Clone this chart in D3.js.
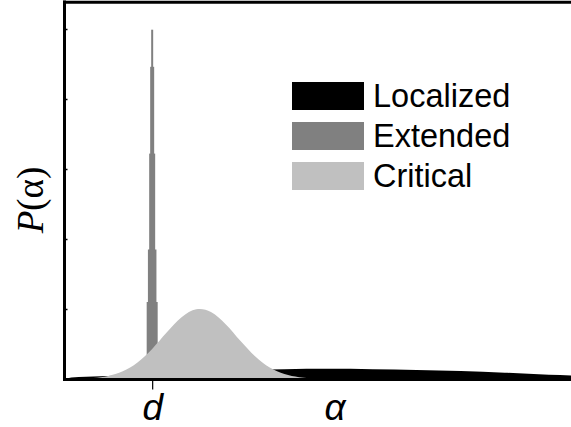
<!DOCTYPE html>
<html>
<head>
<meta charset="utf-8">
<script src="https://cdn.jsdelivr.net/npm/d3@7"></script>
<style>
  html, body { margin: 0; padding: 0; background: #fff; }
  svg { display: block; }
</style>
</head>
<body>
<svg id="chart" width="571" height="427"></svg>
<script>
// ---- data ----
const seriesNames = ["Localized", "Extended", "Critical"];
const seriesColors = ["#000000", "#808080", "#c0c0c0"];

// Localized: broad, low distribution of alpha
const localizedAlpha = [1.40, 1.45, 1.50, 1.60, 1.80, 2.00, 2.30, 2.60, 2.90, 3.20, 3.50, 3.80, 4.10, 4.40, 4.70, 4.85];
const localizedP     = [0.00, 0.02, 0.03, 0.035, 0.05, 0.08, 0.11, 0.13, 0.14, 0.145, 0.14, 0.13, 0.115, 0.09, 0.06, 0.05];

// Extended: very narrow spike at alpha = d (nested histograms)
const dValue = 2.0;
const extendedHalfWidth = [0.0374, 0.029, 0.0204, 0.0136, 0.0068];
const extendedP         = [1.10, 1.85, 3.22, 4.46, 4.99];

// Critical: bell-shaped distribution around alpha ~ 2.33
const criticalAlpha = [1.50, 1.60, 1.70, 1.80, 1.90, 2.00, 2.10, 2.20, 2.30, 2.325, 2.40, 2.50, 2.60, 2.70, 2.80, 2.90, 3.00, 3.10, 3.20];
const criticalP     = [0.003, 0.015, 0.044, 0.110, 0.236, 0.430, 0.667, 0.882, 0.995, 1.000, 0.956, 0.783, 0.546, 0.325, 0.164, 0.071, 0.026, 0.008, 0.002];

const yTicks = [1, 2, 3, 4, 5];
const xTicks = [dValue];
const xTickLabels = ["d"];

// ---- layout ----
const svg = d3.select("#chart");
const x = d3.scaleLinear().domain([1.4, 4.85]).range([64, 571]);
const y = d3.scaleLinear().domain([0, 5.4]).range([379, 1]);

const area = d3.area()
  .x(d => x(d[0]))
  .y0(y(0))
  .y1(d => y(d[1]))
  .curve(d3.curveMonotoneX);

// Localized
svg.append("path")
  .datum(localizedAlpha.map((a, i) => [a, localizedP[i]]))
  .attr("d", area)
  .attr("fill", seriesColors[0]);

// Extended spike
svg.append("g").selectAll("rect")
  .data(extendedHalfWidth.map((w, i) => ({ w, p: extendedP[i] })))
  .join("rect")
  .attr("x", d => x(dValue - d.w))
  .attr("width", d => x(dValue + d.w) - x(dValue - d.w))
  .attr("y", d => y(d.p))
  .attr("height", d => y(0) - y(d.p))
  .attr("fill", seriesColors[1]);

// Critical
svg.append("path")
  .datum(criticalAlpha.map((a, i) => [a, criticalP[i]]))
  .attr("d", area)
  .attr("fill", seriesColors[2]);

// ---- axes / frame ----
const yAxis = svg.append("g")
  .attr("transform", "translate(64.5,0)")
  .call(d3.axisLeft(y).tickValues(yTicks).tickSize(-3).tickFormat(""));
yAxis.select(".domain").remove();
yAxis.selectAll(".tick line").attr("stroke", "#000").attr("stroke-width", 1.5);

// frame lines (left, top)
svg.append("line").attr("x1", 64.5).attr("x2", 64.5).attr("y1", 0.5).attr("y2", 381)
  .attr("stroke", "#000").attr("stroke-width", 3);
svg.append("line").attr("x1", 63).attr("x2", 571).attr("y1", 2.2).attr("y2", 2.2)
  .attr("stroke", "#000").attr("stroke-width", 3);

const xAxis = svg.append("g")
  .attr("transform", "translate(0,379.5)")
  .call(d3.axisBottom(x).tickValues(xTicks).tickSize(10).tickFormat((d, i) => xTickLabels[i]));
xAxis.select(".domain").attr("d", "M63,0H571").attr("stroke", "#000").attr("stroke-width", 3);
xAxis.selectAll(".tick line").attr("stroke", "#000").attr("stroke-width", 1.2);
xAxis.selectAll(".tick text")
  .attr("dy", null)
  .attr("y", 40.5)
  .attr("fill", "#000")
  .style("font-family", "'Liberation Sans', Arial, sans-serif")
  .style("font-style", "italic")
  .style("font-size", "37px");

// axis titles
svg.append("text")
  .attr("x", 335).attr("y", 420)
  .attr("text-anchor", "middle")
  .style("font-family", "'Liberation Sans', Arial, sans-serif")
  .style("font-style", "italic")
  .style("font-size", "37px")
  .text("α");

const yTitle = svg.append("text")
  .attr("transform", "translate(43,200) rotate(-90)")
  .attr("text-anchor", "middle")
  .style("font-family", "'Liberation Serif', 'Times New Roman', serif")
  .style("font-size", "37px");
yTitle.append("tspan").style("font-style", "italic").text("P");
yTitle.append("tspan").text("(α)");

// ---- legend ----
const legend = svg.append("g");
seriesNames.forEach((name, i) => {
  const g = legend.append("g").attr("transform", `translate(292,${82 + i * 40})`);
  g.append("rect").attr("width", 72).attr("height", 28).attr("fill", seriesColors[i]);
  g.append("text")
    .attr("x", 81).attr("y", 25)
    .style("font-family", "'Liberation Sans', Arial, sans-serif")
    .style("font-size", "32.5px")
    .attr("fill", "#000")
    .text(name);
});
</script>
</body>
</html>
